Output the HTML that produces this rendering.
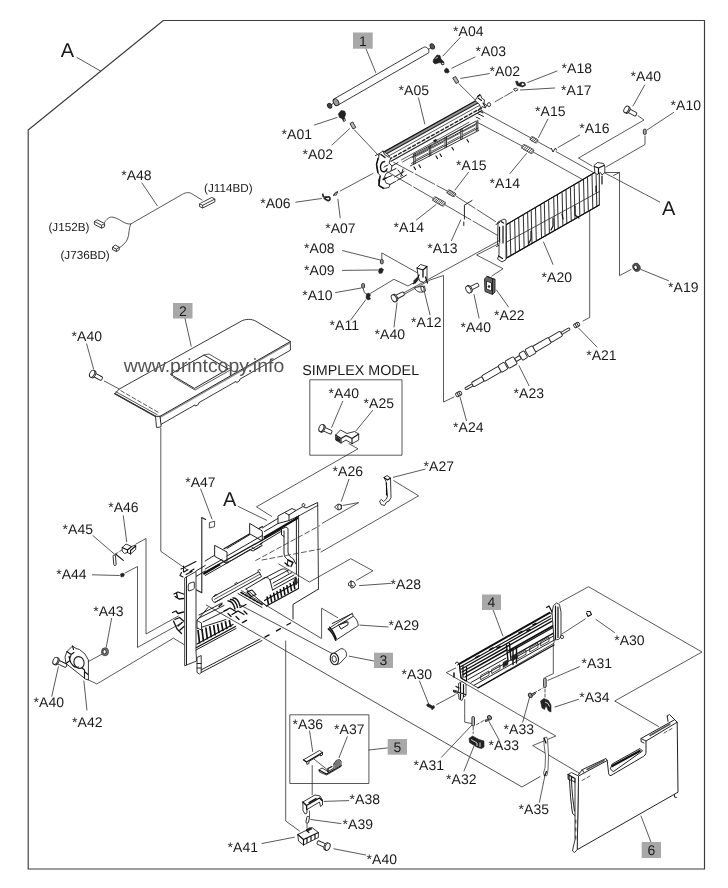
<!DOCTYPE html>
<html><head><meta charset="utf-8"><title>Parts diagram</title>
<style>
html,body{margin:0;padding:0;background:#fff;}
body{width:728px;height:888px;overflow:hidden;font-family:"Liberation Sans",sans-serif;}
svg{display:block;will-change:transform}
svg text{font-family:"Liberation Sans",sans-serif;fill:#1a1a1a;text-rendering:geometricPrecision}
.t14 text{font-size:14px}
.t11 text{font-size:11.7px}
.t20 text{font-size:20px}
.bx rect{fill:#a8a8a8}
.ln{fill:none;stroke:#2e2e2e;stroke-width:0.8;stroke-linecap:round;stroke-linejoin:round}
.ln2{fill:none;stroke:#222;stroke-width:1;stroke-linecap:round;stroke-linejoin:round}
.ln3{fill:none;stroke:#111;stroke-width:1.5;stroke-linecap:round;stroke-linejoin:round}
.pf{fill:#fff;stroke:#222;stroke-width:0.9;stroke-linejoin:round}
.df{fill:#222;stroke:#222;stroke-width:0.6;stroke-linejoin:round}
.gf{fill:#999;stroke:#222;stroke-width:0.6;stroke-linejoin:round}
.wm{font-size:19px;fill:#555 !important}
</style></head><body>
<svg width="728" height="888" viewBox="0 0 728 888">
<rect width="728" height="888" fill="#fff"/>
<path class="ln2" d="M28.2 869H704.5V20.5H163.3L28.2 130Z" style="stroke:#3c3c3c;stroke-width:1.15"/>
<!-- 01_cable.svgfrag -->
<g class="ln">
<path d="M77 57.5L100.5 71"/>
<path d="M142 183L157.3 205.8"/>
<path d="M104 223C107 219 109 216.5 113 217.2C120 218.5 124 224.5 130.7 224L182 194.5C186 192 190 192 193 194.5L202 200"/>
<path d="M130.7 224C128.5 229 129.5 234 127.5 239C126 243 122.5 245.5 119 248"/>
</g>
<g class="pf">
<path d="M94.4 221.5L97.4 219.8L104.6 223.6L104.6 226.6L101.6 228.2L94.4 224.4Z"/>
<path d="M94.4 221.5L101.6 225.3L104.6 223.6M101.6 225.3V228.2"/>
<path d="M112.5 247.2L115.3 245L119.2 247.2L119.2 249.8L116.4 251.6L112.5 249.6Z"/>
<path d="M112.5 247.2L116.4 249.2L119.2 247.2M116.4 249.2V251.6"/>
<path d="M199.6 203.8L211.8 197.4L214.9 199L214.9 201.8L202.7 208L199.6 206.6Z"/>
<path d="M199.6 203.8L202.7 205.3L214.9 199M202.7 205.3V208"/>
</g>

<!-- 02_top.svgfrag -->
<!-- roller 1 -->
<g class="pf">
<path d="M334.3 98.8L423.6 47.3C426.5 46 430 49.5 428.6 52.9L338.8 104.6C335 106 332 101.5 334.3 98.8Z"/>
<ellipse cx="336" cy="102.200" rx="2.500" ry="3.700" transform="rotate(-30 336 102.200)" style="fill:#999"/>
<path d="M428 49.5L431 47.8"/>
<ellipse cx="432.3" cy="46.4" rx="2" ry="2.8" transform="rotate(-30 432.3 46.4)" style="fill:#555"/>
<path d="M333.4 103.4L331 104.8"/>
<ellipse cx="329.6" cy="105.8" rx="2" ry="2.6" transform="rotate(-30 329.6 105.8)" style="fill:#444"/>
</g>
<g class="ln">
<path d="M366 48.8L375.7 72.5"/>
<path d="M314.5 125L337 117.5"/>
<path d="M332 145L349.5 128.7"/>
<path d="M354.5 130L379 156"/>
<path d="M460.2 37.5L442.9 56"/>
<path d="M475 57L451.8 68.2"/>
<path d="M489.3 73.6L460.7 78.4"/>
<path d="M459 83.8L475 99.8"/>
<path d="M557 71L527.7 82.5"/>
<path d="M554.7 88L520.5 90"/>
<path d="M512.5 91.8L493.8 102.5" stroke-dasharray="9 2"/>
<path d="M418.500 98L424.800 124"/>
</g>
<!-- small parts -->
<g class="df">
<path d="M338.300 114L341 110.600L344.500 111L345.800 114L344.500 117.500L345.500 120.500L343.500 121.500L342 118.500L339.500 117.500Z"/>
<circle cx="344.500" cy="120" r="1" style="fill:#fff"/>
<path d="M433.500 59.500L437 55L440 55.500L441 59L444 62L444 64.500L442 65L440.500 62.500L438 63L435 64L433 62Z"/><circle cx="442.800" cy="63.500" r=".8" style="fill:#fff;stroke:none"/><path d="M435.500 58.500l2.500-1.500" style="stroke:#fff;stroke-width:.7"/>
<path d="M444.300 70L446.500 68L448.500 69.500L449.200 72L447.500 73L445 72.500Z"/>
<path d="M515.5 81.5L517.5 81L518.5 83.5L522 82L525 82.8L525.5 85.5L522.5 87L517 85.5Z"/>
</g>
<g class="pf">
<path d="M350 123.5L352.8 122L355.8 127.5L353 129Z" style="fill:#bbb"/>
<path d="M452.8 78L455.6 76.5L458.8 82L456 83.5Z" style="fill:#bbb"/>
<path d="M513.5 89L516.5 88L518 89.8L515 91.2Z"/>
<circle cx="522.8" cy="84.3" r="1.6"/>
<ellipse cx="489" cy="104.6" rx="1.6" ry="2"/>
</g>
<!-- A05 assembly -->
<g>
<path d="M384 151.900L477.100 100L478.300 102.600L385.200 154.500Z" style="fill:#9a9a9a;stroke:none"/>
<path class="ln3" d="M384.0 151.9L477.1 100.0" style="stroke-width:1.300"/>
<path class="ln2" d="M385.2 154.6L478.3 102.7" style="stroke-width:1.100"/>
<path class="ln" d="M386.5 157.2L479.5 105.4" />
<path class="ln" d="M389.0 159.5L481.0 108.2" stroke-dasharray="3.200 2.200" style="stroke-width:1.400;stroke:#222"/>
<path class="ln2" d="M391.0 161.3L482.0 110.6" style="stroke-width:1.100"/>
<path class="ln" d="M401.3 160.0L469.0 122.3" />
<path class="ln" d="M402.5 162.0L470.0 124.4" />
<path class="ln2" d="M413.700 154.300L475.500 121.400M410.400 165.900L478.800 130.400M412 157.500L476 123.800M411.500 163.400L478 128.200" style="stroke-width:.9"/>
<path class="ln2" d="M413.7 154.3V164.5M415.2 153.5V163.7M429.3 146.0V156.2M430.8 145.2V155.4M445.0 137.6V147.8M446.5 136.8V147.0M460.7 129.3V139.5M462.2 128.5V138.7M476.3 121.0V131.2M477.8 120.2V130.4" style="stroke-width:.9"/>
<path class="ln" d="M416.5 156.3L428.0 150.2M416.5 159.3L428.0 153.2M432.0 148.1L443.5 142.0M432.0 151.1L443.5 145.0M447.7 139.7L459.2 133.6M447.7 142.7L459.2 136.6M463.4 131.4L474.9 125.3M463.4 134.4L474.9 128.3"/>
<path class="ln3" d="M414 167l1.500 2.500M419 165l1.500 2.500M436 156l1.500 2.500M440 154l1.500 2.500M452 147.500l1.500 2.500M467 139.500l1.500 2.500" style="stroke-width:1.200"/>
<path class="df" d="M433.500 140.500l2.500-1.400l.8 1.800l-2.500 1.400z"/>
<path class="pf" d="M475 100.500L478 96L481 95.500L481.500 98L484.500 100L484 103.500L486.500 105L485.500 108L482 106.500L481 109.500L479.500 104.500Z"/>
<path class="ln3" d="M478 98L481.500 100.500M483 103L485 106.500M477.500 96.500L480 94.500" style="stroke-width:1.100"/>
<path class="ln2" d="M478 110.500l5 2.500M477.500 113.500l6 3M476 117l4 2"/>
<path class="pf" d="M379.500 153.500L383 151L388 154.500L390.500 158.500L389 163L392 166L391 171L386 173.500L384 178L386 183L390 184.500L389 187.500L383 188.500L379 186L378.500 180L380.500 176L377.500 172.500L376.500 164L378.500 158Z"/>
<path class="ln3" d="M378 158.500L376.500 164.500L378 172.500M380 176.500L379 185.500L383.500 188.200M384.500 161.500C381 162 379.500 166 381 170C382.500 173 386 172 387 169M381 154.500l4 3M383 179.500l3-1.500" style="stroke-width:1.400"/>
<path class="ln2" d="M379.500 153.500L375.500 155.500M383 151L384.500 154.500L388.500 157M386 178L392 175.500M390 184.500L395.500 181.500M384 167L388 165M392 166L398 162.500M391 171L396 168.500"/>
<path class="ln2" d="M398 170l4.500 5.500M403 169l-2.200 7.500M394.500 177l9.500-5.500M397 180.500l9.500-5.500"/>
</g>

<!-- 03_mid_top.svgfrag -->
<!-- long lines -->
<g class="ln">
<path d="M481.5 111L531 138M537.5 141.6L551 149M556 151.6L593.5 172.5"/>
<path d="M477.700 122.500L522 146M533.5 152.2L583.500 180"/>
<path d="M393.700 162.400L447.500 191.200M456.500 196.400L497.800 223" stroke-dasharray="22 2.5"/>
<path d="M385.500 170.600L433.500 198.500M445 204.800L497.800 235.500" stroke-dasharray="30 2.5"/>
<path d="M468.500 172.300L455 190"/>
<path d="M416.400 220L436 204.600"/>
<path d="M460.700 220L451.400 240.700"/>
<path d="M548 119L538.500 137.500"/>
<path d="M510 173.500L526.500 153.500"/>
<path d="M579.700 135L558 147.500"/>
<path d="M644.700 85L633 106"/>
<path d="M638 115.700L644 120L578.500 158L592 166"/>
<path d="M673.500 112.500L647 130"/>
<path d="M645 136V144.500L606 167"/>
<path d="M603 172L659.700 202"/>
<path d="M605 172.500H619.500V275.700L631 269.500M613.500 175.500L619.500 172.500"/>
<path d="M589.700 211V317.500L583 321"/>
<path d="M641 269.500L668.500 280.700"/>
<path d="M578.500 328L597 347"/>
<path d="M543.500 242L553 264.400"/>
</g>
<path class="ln2" d="M472 200.500L464.400 205.200V219M463.800 222V225.500"/>
<g transform="translate(451.4 193.3) rotate(29)"><rect x="-4.5" y="-2.0" width="9.0" height="4.0" rx="1.5" style="fill:#fff;stroke:#222;stroke-width:.7"/><path d="M-4.0 2.0L-2.6 -2.0M-2.3 2.0L-0.9 -2.0M-0.7 2.0L0.7 -2.0M0.9 2.0L2.3 -2.0M2.6 2.0L4.0 -2.0" style="stroke:#222;stroke-width:.8;fill:none"/></g>
<g transform="translate(439 201.5) rotate(29)"><rect x="-6.5" y="-2.3" width="13.0" height="4.6" rx="1.5" style="fill:#fff;stroke:#222;stroke-width:.7"/><path d="M-6.0 2.3L-4.6 -2.3M-4.2 2.3L-2.8 -2.3M-2.5 2.3L-1.1 -2.3M-0.7 2.3L0.7 -2.3M1.1 2.3L2.5 -2.3M2.8 2.3L4.2 -2.3M4.6 2.3L6.0 -2.3" style="stroke:#222;stroke-width:.8;fill:none"/></g>
<g transform="translate(534 139.8) rotate(29)"><rect x="-4.0" y="-2.0" width="8.0" height="4.0" rx="1.5" style="fill:#fff;stroke:#222;stroke-width:.7"/><path d="M-3.5 2.0L-2.1 -2.0M-1.6 2.0L-0.2 -2.0M0.2 2.0L1.6 -2.0M2.1 2.0L3.5 -2.0" style="stroke:#222;stroke-width:.8;fill:none"/></g>
<g transform="translate(527.7 149) rotate(29)"><rect x="-6.2" y="-2.3" width="12.5" height="4.6" rx="1.5" style="fill:#fff;stroke:#222;stroke-width:.7"/><path d="M-5.8 2.3L-4.3 -2.3M-3.7 2.3L-2.3 -2.3M-1.7 2.3L-0.3 -2.3M0.3 2.3L1.7 -2.3M2.3 2.3L3.7 -2.3M4.3 2.3L5.8 -2.3" style="stroke:#222;stroke-width:.8;fill:none"/></g>
<path class="ln2" d="M551.500 148.500L553 152L555.500 148L556.500 150"/>
<g transform="translate(627.5 110) rotate(28)" class="pf"><rect x="1" y="-1.9" width="9" height="3.8" rx="1.2"/><ellipse cx="0" cy="0" rx="2.2" ry="3.6"/><ellipse cx="-1.3" cy="0" rx="2.2" ry="3.6"/></g>
<rect class="pf" x="643.4" y="129.2" width="2.8" height="5.2" rx="1" style="fill:#aaa"/>
<g><ellipse cx="636.5" cy="267.3" rx="3.6" ry="4.3" transform="rotate(-25 636.5 267.3)" class="df" style="fill:#555"/><ellipse cx="635.6" cy="267.3" rx="1.7" ry="2.2" transform="rotate(-25 635.6 267.3)" class="pf"/></g>
<g transform="translate(576.7 325) rotate(-30)" class="pf"><rect x="-3" y="-2" width="6" height="4" rx="1.3"/><path d="M-1-2V2M1-2V2"/></g>
<g>
<path d="M506 224.800L596 171.800L599.300 173V205L505.300 258.700Z" style="fill:#fff;stroke:#222;stroke-width:1"/>
<path d="M506.0 225.3L506.8 257.3M510.0 222.9L510.8 255.1M514.6 220.2L515.4 252.4M518.7 217.8L519.5 250.1M523.3 215.1L524.1 247.5M527.6 212.6L528.4 245.0M531.2 210.4L532.0 242.9M535.5 207.9L536.3 240.5M540.7 204.9L541.5 237.5M544.3 202.7L545.1 235.5M548.6 200.2L549.4 233.0M553.7 197.2L554.5 230.1M557.4 195.0L558.2 228.0M562.1 192.3L562.9 225.3M566.0 190.0L566.8 223.1M570.4 187.4L571.2 220.5M574.2 185.1L575.0 218.4M579.0 182.3L579.8 215.6M583.5 179.6L584.3 213.0M587.5 177.3L588.3 210.8M592.0 174.7L592.8 208.2M596.0 172.3L596.8 205.9" style="stroke:#333;stroke-width:1.05;fill:none"/>
<path class="ln2" d="M506.800 242L599.300 191.600" style="stroke-width:.8"/>
<path class="ln3" d="M505.300 258.700L599.300 205" style="stroke-width:1.300"/>
<path class="ln3" d="M506 224.800L596 171.800" style="stroke-width:1.200"/>
<path class="ln3" d="M531 231v8l-2 4M553 218v8l-2 4M562 214l1 5M575 206v9l4 3M596 186v6" style="stroke-width:1.2"/>
<path class="pf" d="M498 222L504 219L506 220V259.600L502 262L497.500 259L499 255V246L497.500 244Z"/>
<path class="ln3" d="M499.500 227V242M503 226V243M498.500 256L502.500 258.500M501 221.500L503.500 223" style="stroke-width:1.2"/>
<path class="ln2" d="M496 224.500L499.500 222.500M496.500 246.500L499.500 245"/>
<path class="pf" d="M594 165.500L597.500 162.500L603.500 163.500L604.800 166V172.500L602 175L600.500 172.500L597 174.500L595 172.500Z"/>
<path class="ln3" d="M594.500 166.500L598.500 168L604 165.500M598.500 168V173.500M602 176V184" style="stroke-width:1.2"/>
</g>
<!-- 04_mid.svgfrag -->
<g class="ln">
<path d="M295.800 202.200L321.500 198.500"/>
<path d="M340.200 217.900L337.900 199.200"/>
<path d="M340.200 191L372.900 173.500"/>
<path d="M342.500 250.600L379.900 259.900"/>
<path d="M342.500 270.400L377.600 270"/>
<path d="M381.800 259.500V252.900L417.300 272.800"/>
<path d="M335.500 292.600L361.200 288"/>
<path d="M363.100 288L364.300 292.600L367.500 294.500"/>
<path d="M350.700 320L365.900 299.600"/>
<path d="M370.600 293.300L393.900 279.300L407.900 286L416 281.600"/>
<path d="M403.500 293L500 240.200M404.300 294.300L430.500 279.800L443.500 275.500V402L454 397"/>
<path d="M397 303L394 327"/>
<path d="M424.300 291.400L430 314.800"/>
<path d="M500 243L476.600 255L503 268.700L492 276"/>
<path d="M496.500 290L508.500 307"/>
<path d="M474 294.500L479 318"/>
<path d="M519 365.700L529 385.700"/>
<path d="M460 397L466.500 420.700"/>
</g>
<g transform="translate(395 297.8) rotate(-27)" class="pf"><rect x="1" y="-1.9" width="9" height="3.8" rx="1.2"/><ellipse cx="0" cy="0" rx="2.3" ry="3.8"/><ellipse cx="-1.2" cy="0" rx="2.3" ry="3.8"/></g>
<g transform="translate(469.5 289) rotate(-27)" class="pf"><rect x="1" y="-1.9" width="9" height="3.8" rx="1.2"/><ellipse cx="0" cy="0" rx="2.3" ry="3.8"/><ellipse cx="-1.2" cy="0" rx="2.3" ry="3.8"/></g>
<g class="df">
<path d="M322.600 193.600L323.300 196.600C325 198 326.500 196.800 328.600 196.800A1.900 1.900 0 1 1 327.200 200.300L323.800 198" style="fill:none;stroke-width:1.700"/>
<path d="M379 269L381.500 268L383.500 269.500L382 273L379.500 273.500L378.500 271.500Z"/>
<path d="M366.500 294L369 293L370.500 295L369.500 297L370.500 299L368 300L366 298Z"/>
</g>
<g class="pf">
<path d="M333.500 195L335.500 192.300L337.800 191.800L336.200 195.200ZM333 196L338 191.300" style="stroke-width:.8"/>
<rect x="380.400" y="259.600" width="2.800" height="4.200" rx="1" style="fill:#999"/>
<rect x="361.700" y="283.600" width="2.800" height="4.400" rx="1" style="fill:#999"/>
</g>
<g>
<path class="pf" d="M417 268L420.500 264.500L427 266.500V279L424 282.500L419.500 281L418 275Z"/>
<path class="ln3" d="M417 268L423 270L427 266.500M423 270V277M419 275L416 281.500L413.500 283.500M425.500 277L427.500 283" style="stroke-width:1.3"/>
<path class="df" d="M413.500 281L417 277.500L418.500 279.500L415 283.500Z"/>
<path class="pf" d="M414.500 287.500C416 292 421 293.500 425.500 291L424.500 286Z"/>
<ellipse class="pf" cx="422.500" cy="288.800" rx="1.500" ry="2.800" transform="rotate(-15 422.5 288.8)"/>
</g>
<g>
<path class="pf" d="M484.500 279L487 276.300L495 279.500V292L492.500 294.500L485 291.500Z" style="fill:#666"/>
<path class="pf" d="M486.500 281L491.500 283V291L486.500 289Z" />
<path class="ln2" d="M487 276.300L492.500 278.500L495 279.500M492.500 278.500V294.500"/>
<circle cx="489" cy="286.500" r="1" class="df"/>
</g>
<g transform="translate(458.700 394) rotate(-30)" class="pf"><rect x="-3" y="-2" width="6" height="4" rx="1.300"/><path d="M-1-2V2M1-2V2"/></g>
<g transform="translate(465.3 389) rotate(-30.05)" class="pf"><rect x="0.0" y="-1.15" width="8.4" height="2.30" rx="1.0"/><rect x="8.4" y="-2.53" width="12.1" height="5.06" rx="1.2"/><rect x="20.5" y="-3.22" width="19.3" height="6.44" rx="1.2"/><rect x="39.8" y="-3.91" width="7.2" height="7.82" rx="1.2"/><rect x="48.2" y="-4.14" width="9.6" height="8.28" rx="1.2"/><rect x="57.9" y="-1.84" width="6.0" height="3.68" rx="1.2"/><rect x="63.9" y="-3.91" width="6.0" height="7.82" rx="1.2"/><rect x="71.2" y="-4.14" width="8.4" height="8.28" rx="1.2"/><rect x="79.6" y="-3.22" width="18.1" height="6.44" rx="1.2"/><rect x="97.7" y="-2.76" width="13.3" height="5.52" rx="1.2"/><rect x="111.0" y="-1.15" width="9.6" height="2.30" rx="1.0"/></g>
<!-- 05_cover_simplex.svgfrag -->
<g>
<path class="pf" d="M114.800 393.700L119.300 389L241.500 321C245 319 252 318.600 256 321.300L290.400 341.500V350.200L240 379.100L239.300 381L236.600 382.600L236 381.400L199 402.600L198.300 404.500L195.600 406.100L195 404.900L161 424.400V427L156.500 427.500L155.500 416.300Z"/>
<path d="M290.400 342.700L160 417.500" style="stroke:#8a8a8a;stroke-width:1.300;fill:none"/>
<path class="ln2" d="M290.400 341.500L160 416.300L155.500 416.300M160 416.300L161 424.400"/>
<path class="ln3" d="M114.800 393.700L155.500 416.300" style="stroke-width:1.500;stroke:#333"/><path class="ln" d="M116 391.800L157 414.600"/>
<path class="ln" d="M120.800 390.700L160 413.300" stroke-dasharray="4 2.500"/>
<path class="ln2" d="M170.700 374L204 355L228 369L194.800 388.200Z"/>
<path class="ln" d="M204 355L209 354L232 367.500L228 369M173 377L195 390L229.500 370.500" />
</g>
<text class="wm" x="123.700" y="371.700" textLength="160.500" lengthAdjust="spacingAndGlyphs">www.printcopy.info</text>
<g class="ln">
<path d="M184.900 318L191.200 346.200"/>
<path d="M86.600 343.800L93.600 369"/>
<path d="M104.200 381L119.300 389"/>
<path d="M160.800 428.400V551.300L187 569.600"/>
</g>
<g transform="translate(93.2 374.3) rotate(28)" class="pf"><rect x="1" y="-1.9" width="9" height="3.8" rx="1.2"/><ellipse cx="0" cy="0" rx="2.3" ry="3.8"/><ellipse cx="-1.2" cy="0" rx="2.3" ry="3.8"/></g>
<rect class="ln" x="310.200" y="379.800" width="91.800" height="75.400"/>
<g class="ln">
<path d="M342.700 401.300L331.700 427.300"/>
<path d="M372.700 410.400L355.800 431"/>
<path d="M349 443.700L358 448.800L256.500 506.800L271.600 516.400"/>
<path d="M349 479.200L341.300 501.300"/>
<path d="M343 505.400L358.700 502.600L322.400 523.200"/>
<path d="M393.300 477.300L425 469.200"/>
<path d="M393.800 480.700L418.600 495.800L321 552"/>
<path d="M356.200 580.400L372.900 570.800L350.800 558.700L309.400 582L278.700 564"/>
<path d="M359.500 585.600L390.500 583.400"/>
<path d="M337.700 617.700L321.600 608.200V638.300"/>
<path d="M359.900 625.100L388 627"/>
<path d="M349.200 656.200L374 661"/>
</g>
<g transform="translate(322.5 428.5) rotate(24)" class="pf"><rect x="1" y="-1.9" width="9" height="3.8" rx="1.2"/><ellipse cx="0" cy="0" rx="2.3" ry="3.8"/><ellipse cx="-1.2" cy="0" rx="2.3" ry="3.8"/></g>
<g><path class="pf" d="M335.600 435L340.500 430L347 433.500L354.500 431.500L358.700 434V440L352 443.700L346 440L341 443L335.600 440Z"/>
<path class="ln3" d="M335.600 435L341 438.500L346 435.500L352 438.500L358.700 434M341 438.500V443M352 438.500V443.700M337 440.500V436.500" style="stroke-width:1.1"/>
<path class="df" d="M336.500 437L340 439V442L336.500 440Z"/></g>
<g class="pf"><path d="M334.500 507L338 504L341.500 505V509L338 510Z"/><ellipse cx="339.500" cy="507" rx="1.800" ry="2.600"/></g>
<g><path class="pf" d="M384 477.500L387 475.500L390.500 478L391 497.500L389 501L386.500 502L384.500 505.500L381 504.500L379.500 501L381.500 499.500L383.500 501.500L386.500 499L387.500 496L386 481.500Z"/>
<path class="ln3" d="M384 477.500L387.500 480L390.500 478M386.500 483V495" style="stroke-width:1.1"/></g>
<g><path class="pf" d="M348.500 583L351 581L354 582L355.500 585L354 587.500L351 588L350.500 586L348.500 585.500Z"/><path class="ln3" d="M351 581V585.500L353 586" style="stroke-width:1.1"/></g>
<g><path class="pf" d="M328.200 628.900L352.500 613.200L352.900 615.700C356 618 358 621.500 358.300 625.600L335.600 640.400C335 636 333.500 632.500 331.100 630.100Z"/>
<path class="ln2" d="M332.300 623.500L351.300 614M331.500 629.300L352.900 616.500M338.900 624.700L348 621.800V624.700L341.400 628.900ZM340.500 624.300L346.500 621.300"/>
<path class="ln3" d="M328.200 628.900C331 631 334 636 335.600 640.400M329.500 627.300C332.500 630 334.500 634 336.200 638.500" style="stroke-width:1.300"/></g>
<g class="pf"><path d="M334.400 652.800L340.600 648.800C344.500 648 347.300 652 346.300 656.500L339.700 663.500L336.400 664.700Z"/><ellipse cx="334.400" cy="658.900" rx="4.100" ry="5.900" transform="rotate(-12 334.400 658.900)" style="stroke-width:1.200"/><ellipse cx="334.200" cy="659" rx="2.100" ry="3.200" transform="rotate(-12 334.200 659)"/></g>

<!-- 06_frame.svgfrag -->
<g>
<path class="ln2" d="M205.600 519.600L201.800 517.600V592.800L195.600 589.500" style="stroke-width:1.100"/>

<path class="pf" d="M209.400 522.600L214.600 521.200V526.600L209.400 528Z" style="stroke-width:.8"/>
<path class="ln" d="M200.700 489L212 519"/>
<path class="ln" d="M238.100 506.400L266.700 520.300"/>
<path class="ln2" d="M298.600 516L317.700 505.500L318.500 589M298.600 516V576.500" style="stroke-width:.9"/>
<path class="ln2" d="M318.500 589L293 604.400V619"/>
<path class="ln2" d="M296.400 517.200V574M298.600 516L296.400 517.200"/>
<path class="ln" d="M255.700 560.500L319.500 525.800M262 560L320.500 549" stroke-dasharray="5 3"/>
<path class="ln2" d="M264.500 531.500L278 523.500L289 520.500L298.600 516M278 523.500V516L284.500 512.500L289 515V520.500M284.500 512.500L292 508.500L296 510.500L289 515M296 510.500L303 506.500L306 508L317.700 502.500V505.500M302 505.500a1.500 1.500 0 1 1 2 1"/>
<path class="ln2" d="M281.500 529L286 527L288 528.500V552C288 556 291 557 293.500 559L295.500 563.500M284 531V553C284 557 286 558 288 560L287 566M281.500 529V535L284 536.500"/>
<path class="ln3" d="M288 560L293 562.500L291 566.500M285 563L289 566" style="stroke-width:1.400"/>
<path class="ln2" d="M205.200 561L215 555M227 548.500L250 534.500M262.300 528L277.700 518.500"/>
<path class="ln3" d="M224 548.800L262.300 526.500" style="stroke-width:1.200"/>
<path class="ln2" d="M215 545.500L227 552V563L215 556.500ZM250 523.600L262.300 531V541L250 534Z" style="fill:#fff"/>
<path class="ln2" d="M227 556L262.300 535.500M227 563L250 549.500L253 551L262.300 545.500L260 544L281 531.500"/>
<path class="ln3" d="M205.200 572L281 529.500" style="stroke-width:1.300"/><path class="ln3" d="M203.300 574L220 564.200M263.800 537.800L298 517.800" style="stroke-width:2.200;stroke-linecap:butt"/>
<path class="ln2" d="M205.200 569L222 559.500M205.200 575.500L262.300 543M196 571L205.200 565.500M196 576.500L205.200 571"/>
<path class="ln2" d="M222 560.500L226 563.500L230 561M252 547.500l3 2l5-3"/>
<path class="pf" d="M184.700 577.900L196 571.500V650L196.500 661L184.700 665.800Z" style="stroke-width:.9"/>
<path class="ln2" d="M186.500 577V664.800"/>
<rect class="pf" x="188.200" y="582.700" width="6.100" height="7.500" rx="1.600" transform="skewY(-20) translate(0 69.600)"/>
<path class="pf" d="M197 657.500L201.200 655.500V672.500L199.500 674L197 672.500Z"/>
<path class="ln2" d="M197 663.500h4.200M197 668h4.200"/>
<path class="ln3" d="M184 572L188 569.500M190 571.500L194 569M183 577L180 575.500L181.500 572.500M186 574.500L192 571.500M181 569L196 561.500M183.500 566L183.500 572" style="stroke-width:1.100"/>
<path class="ln3" d="M174 594L178 592L183.500 594M175 596.500L179 599L183.500 598.500M176.500 593L177.500 597.500" style="stroke-width:1.300"/>
<path class="ln3" d="M172.500 612.500L176 611L178 613.500L183.500 612M173.500 621L177 629L181.500 633.500M175 619.500L179.500 617.500L183.500 621M178 626L182 622.500M180 630L184 626.500" style="stroke-width:1.300"/>
<path class="ln2" d="M201.200 669.900L260 639M201.200 672.500L262 640.500M196 650L236 628.500"/>
<path class="ln2" d="M197 620.400L208 607.500M197 628.700L226 619.500M199 615L222 603M199 618L224 605.500M203 622L228 609.500"/>
<path d="M198.0 630.0L199.6 643.5M201.9 628.8L203.5 641.5M205.8 627.5L207.4 639.4M209.7 626.2L211.3 637.4M213.6 625.0L215.2 635.3M217.5 623.8L219.1 633.2M221.4 622.5L223.0 631.2M225.3 621.2L226.9 629.1M229.2 620.0L230.8 627.1" style="stroke:#111;stroke-width:1.700;fill:none"/>
<path class="ln3" d="M196.500 647.500L235.500 626.500M197 644L233 624.500" style="stroke-width:1.300"/>
<path class="pf" d="M197 620.500L201.500 623V630L197 628Z"/>
<path class="pf" d="M213 596.800L259 571.800L261.500 576.500L215.500 602C212.500 603 211 598.500 213 596.800Z" style="stroke-width:1"/><path class="ln" d="M214.500 599.300L260 574.200"/>
<path class="ln2" d="M214.500 596.500a1.500 1.500 0 0 1 2.500-1.500M235 584.500a1.500 1.500 0 0 1 2.500-1.500M258 571.500a1.500 1.500 0 0 1 2.500-1.500"/>
<path class="ln3" d="M228 601C231 600.500 234 604 235 609M230.500 599.500C233.500 599 236.500 602.500 237.500 607.500M233 598C236 597.500 239 601 240 606" style="stroke-width:1.400"/>
<path class="ln3" d="M219 606.500L222 604M224 611L230 608L236 611.500M232 614.500L238 611L244 614.500M240 607.500L246 604.500M228 613.500l3 3M236 616.500l3 3M244 611l3 3" style="stroke-width:1.300"/>
<path class="ln3" d="M241 592.500L262 604.500" stroke-dasharray="3 1.500" style="stroke-width:1.600"/>
<path class="ln2" d="M238 593.500L262 607.500M215 602.500L222 598.500"/>
<path class="ln2" d="M246 589L262 579.500C264 577 268 576.500 270 580L272.500 590M262 579.500L281 569.500C284 568 287.500 569.500 288.500 573M270 580L288.500 570"/>
<path class="ln2" d="M272.500 590L296 577M274 586L294 575M273 583L292 572.500"/>
<path d="M267.0 596.5L268.5 604.5M270.3 594.6L271.8 602.6M273.6 592.7L275.1 600.7M276.9 590.8L278.4 598.8M280.2 588.9L281.7 596.9M283.5 587.0L285.0 595.0M286.8 585.1L288.3 593.1M290.1 583.2L291.6 591.2M293.4 581.3L294.9 589.3" style="stroke:#111;stroke-width:1.600;fill:none"/>
<path class="ln3" d="M264.500 600.500L297 582.500M266.500 606L298.500 588.500" style="stroke-width:1.300"/>
<path class="ln2" d="M246 589L266.500 606M298.500 578V588.500M296 577.500C297.500 579 297.500 583 296 585"/>
<path class="df" d="M294 579.500l2-2l1 6l-2 1z"/>
<path class="ln3" d="M247 592L252 590L256 594.500L251.500 596.500Z" style="stroke-width:1.100"/>
<path class="ln2" d="M241.400 590.600L320.700 638M239.300 604.500L331.500 653.200" style="stroke-width:.8"/>
<path class="ln2" d="M206.300 605L522 787L540 776.600" style="stroke-width:.8"/>
<path class="ln3" d="M242.500 622.600l4-2.200M265 637.100l4-2.200M276.500 630.900l4-2.200M287 625l3.600-2" style="stroke-width:1.400"/>
<path class="ln" d="M285.700 641V821L299.500 831"/>
<path class="ln" d="M125 573L137.500 566.500V647.400L183.300 622"/>
<path class="ln" d="M136 544L146 538.500V634L178.400 616"/>
<path class="ln" d="M85.600 678.500L96.800 684L173.400 638.200L184 644.500"/>
</g>
<!-- 07_left.svgfrag -->
<g class="ln">
<path d="M123.300 515.800L126.700 541.700"/>
<path d="M92.900 535.600L114.300 554"/>
<path d="M115.500 554L124.500 548.400" stroke-dasharray="3 2"/>
<path d="M92.300 574.800L119.300 575.500"/>
<path d="M111.600 618.400L106.200 647.400"/>
<path d="M88.100 661.700L101.700 654.300"/>
<path d="M58.400 666.700L51.800 696.300"/>
<path d="M83.900 681L86.900 710"/>
</g>
<g><path class="pf" d="M122.200 547.500L126 544L131.500 546.500L135.700 545V549.500L130.500 554L127.500 552.500L124.500 553.500L122.200 551Z"/>
<path class="ln3" d="M122.200 547.500L127.500 550L131.500 546.500M127.500 550V552.500M130.500 554V550.500L135.700 546" style="stroke-width:1.100"/></g>
<g><rect class="pf" x="113.400" y="555" width="2.400" height="10.500" rx="1.100" transform="rotate(-5 114.600 560)"/><path class="ln3" d="M115.500 554L123.300 560.400" style="stroke-width:1.100"/></g>
<path class="df" d="M120.500 574L123 573L124.500 574.500L123.500 576.500L121 577Z"/>
<g><ellipse class="df" cx="105" cy="651.800" rx="3.600" ry="4" style="fill:#777"/><ellipse class="pf" cx="104.600" cy="651.800" rx="1.700" ry="2.100"/></g>
<g><path class="pf" d="M67 651.500L72.500 646L76 648.500L79.500 649.500L85 654L88.400 660V680L85.500 679L66 663.500L65 657Z" style="stroke-width:.9"/>
<ellipse class="pf" cx="79" cy="662.500" rx="5" ry="6" transform="rotate(-20 79 662.500)" style="stroke-width:1.100"/>
<path class="ln3" d="M67 651.500L71 654.500L74 652.500M66 663.500L70 660.500L69 656.500M72.500 646L73.500 649.500M85 672L88 674.500M84.500 678V670L82 668M71 655C69 658.500 70 662.500 73 665.500C75 667.500 77 667.500 78.500 667" style="stroke-width:1.100"/></g>
<g transform="translate(56.5 661.3) rotate(25)" class="pf"><rect x="1" y="-1.9" width="10" height="3.8" rx="1.2"/><ellipse cx="0" cy="0" rx="2.3" ry="3.8"/><ellipse cx="-1.2" cy="0" rx="2.3" ry="3.8"/></g>
<!-- 08_bottom.svgfrag -->
<rect class="ln" x="290.200" y="714.800" width="78.700" height="68.700"/>
<g class="ln">
<path d="M368.900 750L388.500 747.800"/>
<path d="M309.600 731L312.700 751.500"/>
<path d="M347.300 736.700L339 757.700"/>
<path d="M314.300 759.300L327.700 770"/>
<path d="M312.200 765.500V794.800"/>
<path d="M324 801.400L348.700 800.600"/>
<path d="M310.800 819.500L341 823.600"/>
<path d="M262 843.500L294.500 837.200"/>
<path d="M333.900 848.800L365.800 855"/>
<path d="M309.500 811V817M307 823V828" />
</g>
<g><path class="pf" d="M303.400 759.800L319.500 750.500L322.500 752.500V755L320.500 756V754.500L309 761.500V763.500L307 764.500L306.500 762Z"/><path class="ln3" d="M303.400 759.800L306.500 762L322.500 752.500" style="stroke-width:1.200"/></g>
<g><path class="pf" d="M319 770L322 768L328 771.500L334 768V764L336 760.500L339.500 759.500L341 761V766.500L326.500 775L319.500 772Z"/>
<path class="ln3" d="M319 770L326.500 774L341 765.500M328 771.500V768.500L332 766.500M334 764L338 762" style="stroke-width:1.300"/><path d="M334.500 763.500L336.200 760.700L339.400 759.800L340.600 761.200V765.500L334.500 769Z" style="fill:#777;stroke:none"/></g>
<g><path class="pf" d="M302.800 802L315 795L320 796L322.500 800V805L320.500 806.500L319.500 802L307 809.500V813L305 814L303 810.500Z"/>
<path class="ln3" d="M302.800 802L306.500 805.500L319.500 798L322 800.500M306.500 805.500L306.800 809.500M309 802.500L316 798.500" style="stroke-width:1.400"/></g>
<rect class="pf" x="306.400" y="816.500" width="2.600" height="6.500" rx=".800" transform="rotate(12 307.700 819.700)"/>
<g><path class="pf" d="M297.800 834.500L312 827.500L318.400 832.500V837.500L303.500 845L298.500 841Z"/>
<path class="ln3" d="M297.800 834.500L303.500 839.500L318.400 832.500M303.500 839.500V845M306.500 830.500L309 832.500M307 838V842.500M311 836V840.500M315 834V838.500" style="stroke-width:1.200"/><path class="df" d="M306 829.500l4-2l2 1.500l-4 2z"/></g>
<g transform="translate(326.5 846.3) rotate(204)" class="pf"><rect x="1" y="-1.9" width="9" height="3.8" rx="1.2"/><ellipse cx="0" cy="0" rx="2.3" ry="3.8"/><ellipse cx="-1.2" cy="0" rx="2.3" ry="3.8"/></g>
<g class="ln">
<path d="M493 609.500L502.900 636"/>
<path d="M559.700 602.500L588.500 586.700L702 652L614.700 701L658.500 726.500"/>
<path d="M455.700 668L446.300 672.600L555.800 736L532.700 745.600L579.800 773.500"/>
<path d="M585.300 618.900L562 634"/>
<path d="M596 619.500L614.500 632.500"/>
<path d="M553.300 642.200V673.700L545.600 677.200"/>
<path d="M548 680.300L579.500 666.700"/>
<path d="M534 693L543.300 687.800" stroke-dasharray="3 2"/>
<path d="M545 689V697" stroke-dasharray="3 2"/>
<path d="M529.500 697.500L522.700 722.200"/>
<path d="M555 707L578.500 699.300"/>
<path d="M419.500 681L428.500 703.500"/>
<path d="M436.500 704.700L455.200 694.700"/>
<path d="M464.700 699.700V722.200L471.500 723.500"/>
<path d="M473.200 727V733.500M476.500 724.700L485.200 719.700" stroke-dasharray="3 2"/>
<path d="M489 721.500L499 739.700"/>
<path d="M472 725L441.500 757.200"/>
<path d="M474 746L464 771"/>
<path d="M544.600 777.300L539.400 802.300"/>
<path d="M641 816L651 842.200"/>
</g>
<g>
<path class="ln3" d="M586.500 613L588 616.500L591.500 614.500L590 611.500L587 611.500" style="stroke-width:1.100"/>
<path class="df" d="M426.500 705L428 703.500L432.500 706L434 705.500L434.500 708L432 709.800L431 708L427.500 706.500Z"/>
<rect class="pf" x="543.600" y="678" width="2.600" height="9.500" rx="1.200" style="fill:#bbb"/>
<rect class="pf" x="471.900" y="716.500" width="2.600" height="9.500" rx="1.200" style="fill:#bbb"/>
<g class="pf" style="fill:#999"><ellipse cx="530.300" cy="695.300" rx="1.800" ry="2.300" transform="rotate(-30 530.300 695.300)"/><path d="M531.500 694.300L535 692.300L535.600 693.500L532.300 695.800Z"/></g>
<g class="pf" style="fill:#999"><ellipse cx="489.500" cy="717.700" rx="1.800" ry="2.300" transform="rotate(-30 489.500 717.700)"/><path d="M488.300 718.700L485 720.700L485.600 721.800L489 720Z"/></g>
<path class="df" d="M540.500 701L544 698.500L548.500 700.500L551 705V712L548.500 711L546 705.500L544.500 709.500L542 708Z"/><path d="M545 702l3 1.500l1.500 3" style="stroke:#fff;stroke-width:.8;fill:none"/>
<path class="df" d="M469 738.500L472.500 736L479 739.500L484 741V747L481.500 748.500L477.500 747.500L469.500 742.500Z"/><path d="M471 739.500l6 3.500v3M480 742.500v4.500" style="stroke:#fff;stroke-width:.8;fill:none"/>
<path class="pf" d="M544 738L546.500 737L547.500 739.500L548.500 755L548 770L547 775.500L544.500 776L543.500 773L545 768L545.500 756L544 744Z" style="stroke-width:.7"/><path class="ln3" d="M544 738L546 743M544.500 776L546.500 771.500" style="stroke-width:1.300"/>
</g>
<!-- 09_asm4_door.svgfrag -->
<g>
<path d="M459.300 663.800L549.500 612.900L554 615V643.200L478 687.900L461 678Z" style="fill:#fff;stroke:#222;stroke-width:.8"/>
<path class="ln3" d="M459.3 663.8L549.5 612.9" style="stroke-width:2"/>
<path class="ln3" style="stroke-width:1.2" d="M460.5 666.8L550.5 616.0" />
<path class="ln3" d="M461.0 669.3L551.0 618.5" style="stroke-width:1.300"/>
<path class="ln3" style="stroke-width:1.4" d="M462.0 672.0L552.0 621.2" />
<path class="ln3" d="M463.0 674.6L507.0 649.8" style="stroke-width:1.600"/>
<path class="ln3" d="M509.0 650.5L553.0 625.7" style="stroke-width:1.800"/>
<path class="ln3" style="stroke-width:1.2" d="M465.0 677.0L553.0 627.4" />
<path class="ln2" d="M468.0 679.5L506.0 658.1" />
<path class="ln3" d="M512.0 656.5L553.5 633.1" style="stroke-width:1.300"/>
<path class="ln2" d="M471.0 682.5L553.5 636.0" />
<path class="ln2" d="M474.0 685.3L554.0 640.2" />
<path class="ln3" d="M478.0 687.9L554.0 645.0" style="stroke-width:1.300"/>
<path class="ln2" d="M481 675.4L489 670.9V675.1L481 679.6Z" style="stroke-width:.8"/>
<path class="ln2" d="M492 669.2L500 664.7V668.9L492 673.4Z" style="stroke-width:.8"/>
<path class="ln2" d="M518 654.5L526 650.0V654.2L518 658.7Z" style="stroke-width:.8"/>
<path class="ln2" d="M530 647.7L538 643.2V647.4L530 651.9Z" style="stroke-width:.8"/>
<path class="ln2" d="M541 641.5L549 637.0V641.2L541 645.7Z" style="stroke-width:.8"/>
<path class="ln3" d="M506.500 645L508 661M509.500 643.500L511 660M513 648.500V664.500M516.500 647V663" style="stroke-width:1.400"/>
<path class="df" d="M503 662.500l5-3v5l-5 3zM512 657l4-2.300v4l-4 2.300z"/>
<path class="ln3" d="M476 657.500l3-1.700M490 649.500l3-1.700M519 633l3-1.700M533 625l3-1.700M497 648l3-1.700M527 631l3-1.700" style="stroke-width:1.500"/>
<path class="ln3" d="M459.300 663.800L461 678L466 681M463 665.500V677.500M466.500 667V680.500" style="stroke-width:1.200"/>
<path class="ln2" d="M455.500 663.500a1.500 1.500 0 1 1 2 1.500L459.300 663.800"/>
<path class="ln3" d="M454 673v4" style="stroke-width:1.500"/>
<path class="pf" d="M552 612L553.500 605.500L556.500 603L559.500 604.500L561 612V636.500L558.500 639.500L554 640Z" style="stroke-width:.9"/>
<path class="ln3" d="M555.500 606V639M558 607V637.500M552 612L549 606L546.500 607.500" style="stroke-width:1.200"/>
<circle class="pf" cx="562" cy="637" r="1.600"/>
<path class="pf" d="M458.500 683.500L462 681.500L466 684V695.500L463.500 697L462 700.500L459 699L458.500 694L453.500 692L453.500 690L458.500 691.500Z" style="stroke-width:.8"/>
<path class="ln3" d="M460.500 683V699M463.500 684.500V696.500M453.500 691L465.500 694.500M456 686.500L459 688" style="stroke-width:1.200"/>
</g>
<g>
<path class="pf" d="M578.500 776L607.200 760.500L608.500 772.200C608.500 774.500 609.500 776 611 775.500L642.200 757.200C644.500 756 646 754.500 646 752.200V741L677.200 722.200L678 792.200L577.200 849.700Z" style="stroke-width:1"/>
<path class="ln2" d="M578.500 774.700L582.200 769.700L606 758.500L607.200 760.500M582.200 769.700L584 772.500M646 741L641 738.500L674.700 719.700L677.200 722.200M641 738.500V741.500L644 743"/>
<path class="ln2" d="M587 769.500L604 760.500M650 735.500L670 724" style="stroke-width:1.500;stroke:#555"/>
<path class="ln" d="M582 780.500l3-1.700M587 777.700l3-1.700M664 733l3-1.700M669 730.200l3-1.700"/>
<path class="ln2" d="M667.200 716L669.500 714.500L671 716L675.500 720.500M667.200 716L668 721.500"/>
<path class="ln3" d="M612.200 766L639.700 751" style="stroke-width:2.200"/>
<path class="ln2" d="M610.500 768.500L612.200 764L640 748.500L642.500 751L613.500 771.500Z"/>
<path class="pf" d="M568 774.500L571.500 772.500L578.500 776L577.200 849.700L574.500 852.500L572.500 851L573.500 846L575 840V782L568 779Z" style="stroke-width:.9"/>
<path class="ln3" d="M568 774.500L575 778.500V782M569 776V779M571.500 777.500V780.500" style="stroke-width:1.300"/>
<path class="ln2" d="M569.500 779.500C570 792 571 803 572.500 813.500L575 815.500M571.500 780.500C572 792 573 802 574.500 811"/>
<path class="ln" d="M575.800 820v3M575.800 828v3M575.800 836v3" style="stroke-width:1"/>
<path class="ln2" d="M674.500 794.500v2.500l2 .5"/>
</g>

<g class="bx">
<rect x="353" y="32.5" width="19.7" height="16.2"/>
<rect x="173" y="303" width="19.5" height="15.5"/>
<rect x="374" y="652.7" width="19.0" height="15.3"/>
<rect x="482" y="594.5" width="19.0" height="15.5"/>
<rect x="387.7" y="739" width="19.3" height="15.7"/>
<rect x="641.7" y="842" width="19.3" height="16.0"/>
</g>
<g class="t14">
<text x="453.1" y="36.35">*A04</text>
<text x="475.6" y="56.35">*A03</text>
<text x="489.6" y="76.35">*A02</text>
<text x="561.6" y="72.85">*A18</text>
<text x="561.1" y="94.85">*A17</text>
<text x="630.6" y="81.35">*A40</text>
<text x="670.6" y="110.35">*A10</text>
<text x="535.1" y="116.35">*A15</text>
<text x="579.3" y="132.85">*A16</text>
<text x="398.6" y="94.85">*A05</text>
<text x="281.6" y="139.05">*A01</text>
<text x="302.6" y="159.05">*A02</text>
<text x="456.1" y="170.35">*A15</text>
<text x="489.6" y="188.35">*A14</text>
<text x="121.2" y="180.35">*A48</text>
<text x="260.3" y="208.35">*A06</text>
<text x="325.3" y="232.85">*A07</text>
<text x="393.6" y="232.35">*A14</text>
<text x="427.3" y="253.35">*A13</text>
<text x="304.1" y="252.85">*A08</text>
<text x="304.1" y="275.35">*A09</text>
<text x="302.3" y="299.85">*A10</text>
<text x="329.6" y="329.85">*A11</text>
<text x="374.6" y="339.35">*A40</text>
<text x="411.1" y="327.35">*A12</text>
<text x="460.6" y="331.85">*A40</text>
<text x="494.1" y="319.85">*A22</text>
<text x="541.6" y="282.35">*A20</text>
<text x="668.1" y="292.35">*A19</text>
<text x="586.3" y="360.35">*A21</text>
<text x="513.6" y="397.85">*A23</text>
<text x="453.1" y="432.35">*A24</text>
<text x="71.6" y="341.05">*A40</text>
<text x="302.3" y="375.35" style="font-size:14.3px">SIMPLEX MODEL</text>
<text x="328.6" y="398.35">*A40</text>
<text x="363.6" y="408.35">*A25</text>
<text x="332.6" y="476.35">*A26</text>
<text x="423.6" y="471.05">*A27</text>
<text x="185.3" y="487.35">*A47</text>
<text x="108.3" y="512.35">*A46</text>
<text x="62.6" y="534.35">*A45</text>
<text x="56.3" y="579.35">*A44</text>
<text x="93.3" y="616.35">*A43</text>
<text x="390.6" y="588.85">*A28</text>
<text x="388.6" y="630.05">*A29</text>
<text x="614.3" y="645.35">*A30</text>
<text x="581.6" y="668.35">*A31</text>
<text x="579.3" y="702.05">*A34</text>
<text x="401.6" y="679.35">*A30</text>
<text x="503.6" y="733.85">*A33</text>
<text x="488.6" y="750.05">*A33</text>
<text x="413.6" y="770.05">*A31</text>
<text x="446.1" y="784.35">*A32</text>
<text x="518.6" y="813.85">*A35</text>
<text x="292.6" y="728.85">*A36</text>
<text x="334.1" y="733.85">*A37</text>
<text x="349.6" y="804.35">*A38</text>
<text x="342.6" y="829.35">*A39</text>
<text x="366.6" y="863.85">*A40</text>
<text x="227.6" y="852.35">*A41</text>
<text x="33.6" y="706.85">*A40</text>
<text x="72.1" y="726.85">*A42</text>
<text x="362.9" y="45.9" text-anchor="middle">1</text>
<text x="182.8" y="315.7" text-anchor="middle">2</text>
<text x="383.5" y="665.2" text-anchor="middle">3</text>
<text x="491.5" y="607.2" text-anchor="middle">4</text>
<text x="397.4" y="751.9" text-anchor="middle">5</text>
<text x="651.4" y="855.2" text-anchor="middle">6</text>
</g>
<g class="t11">
<text x="204.1" y="192.1">(J114BD)</text>
<text x="48.4" y="230.5">(J152B)</text>
<text x="60.4" y="259.2">(J736BD)</text>
</g>
<g class="t20">
<text x="60.7" y="57">A</text>
<text x="662.0" y="214.5">A</text>
<text x="223.0" y="505.7">A</text>
</g>
</svg>
</body></html>
